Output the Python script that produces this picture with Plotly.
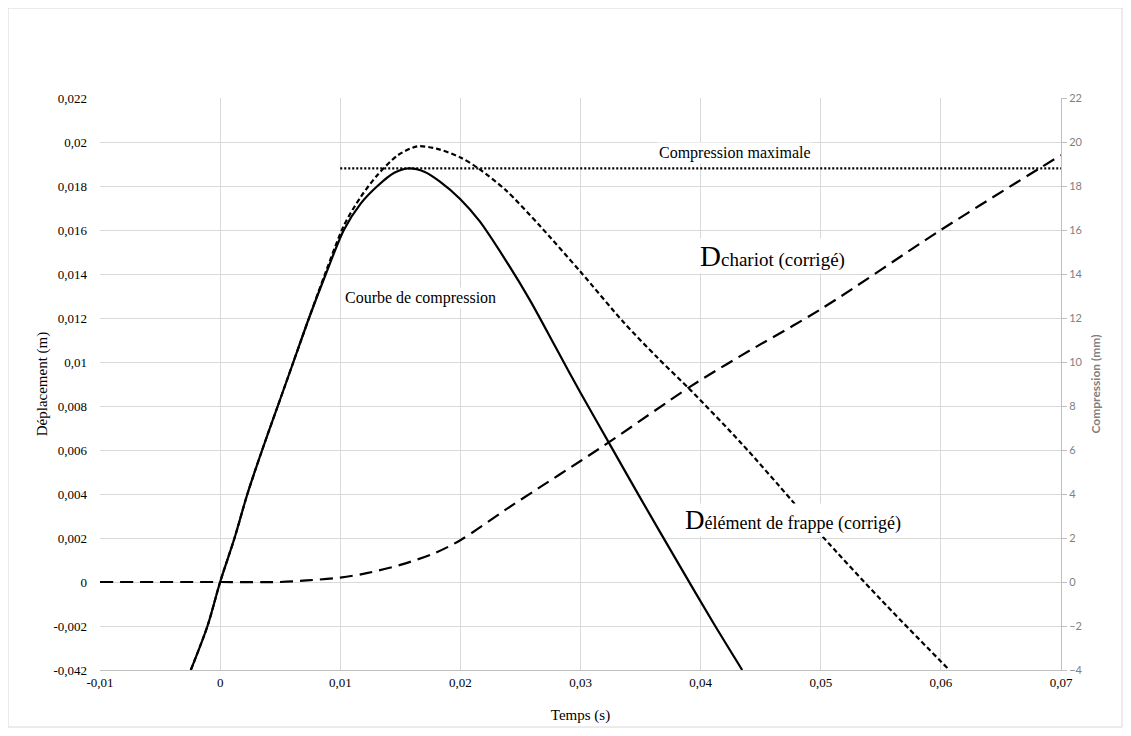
import plotly.graph_objects as go

# ---- data ----
t_comp = [-0.00244, -0.00105, 0.0, 0.0012, 0.00227, 0.0035, 0.0048, 0.0061, 0.0074, 0.0088,
          0.0103, 0.0117, 0.0131, 0.0145, 0.0157, 0.0170, 0.0183, 0.0200, 0.0216, 0.0238,
          0.0258, 0.0280, 0.0300, 0.0325, 0.0350, 0.0383, 0.0411, 0.04346]
compression_mm = [-4.0, -2.0, 0.0, 2.0, 4.0, 6.0, 8.0, 10.0, 12.0, 14.0,
                  16.0, 17.2, 18.0, 18.6, 18.8, 18.65, 18.2, 17.4, 16.4, 14.6,
                  12.8, 10.6, 8.6, 6.2, 3.8, 0.7, -1.9, -4.0]

t_frappe = [-0.00244, -0.00105, 0.0, 0.0012, 0.00227, 0.0035, 0.0048, 0.0061, 0.0074, 0.0088,
            0.0103, 0.0117, 0.0131, 0.0148, 0.0164, 0.0180, 0.0200, 0.0215, 0.0238, 0.0266,
            0.0300, 0.0336, 0.0364, 0.0392, 0.0434, 0.0476, 0.0501, 0.0550, 0.0607]
d_frappe = [-0.004, -0.002, 0.0, 0.002, 0.004, 0.006, 0.008, 0.010, 0.012, 0.0141,
            0.0162, 0.0175, 0.0185, 0.0194, 0.0198, 0.0197, 0.0193, 0.0188, 0.0178, 0.0162,
            0.0141, 0.0118, 0.0102, 0.0087, 0.0063, 0.0037, 0.0021, -0.0008, -0.004]

t_chariot = [-0.01, 0.0, 0.005, 0.0072, 0.010, 0.0122, 0.015, 0.0178, 0.020, 0.0238,
             0.0266, 0.030, 0.0325, 0.0392, 0.0434, 0.050, 0.060, 0.0682, 0.070]
d_chariot = [0.0, 0.0, 0.0, 0.00007, 0.0002, 0.0004, 0.00078, 0.00130, 0.0019, 0.0033,
             0.0043, 0.0055, 0.0064, 0.0089, 0.0103, 0.0124, 0.0160, 0.0188, 0.0194]

t_max = [0.01, 0.07]
compression_max_mm = [18.8, 18.8]

x_tickvals = [-0.01, 0.0, 0.01, 0.02, 0.03, 0.04, 0.05, 0.06, 0.07]
x_ticktext = ["-0,01", "0", "0,01", "0,02", "0,03", "0,04", "0,05", "0,06", "0,07"]
y_tickvals = [-0.004, -0.002, 0.0, 0.002, 0.004, 0.006, 0.008, 0.010, 0.012, 0.014,
              0.016, 0.018, 0.020, 0.022]
y_ticktext = ["-0,042", "-0,002", "0", "0,002", "0,004", "0,006", "0,008", "0,01", "0,012",
              "0,014", "0,016", "0,018", "0,02", "0,022"]
y2_tickvals = [-4, -2, 0, 2, 4, 6, 8, 10, 12, 14, 16, 18, 20, 22]

SERIF = "Liberation Serif, Times New Roman, serif"
SANS = "Lato, Liberation Sans, sans-serif"
GRID = "#d9d9d9"

fig = go.Figure()
fig.add_trace(go.Scatter(x=t_chariot, y=d_chariot, mode="lines", yaxis="y",
                         line=dict(color="#000000", width=2.2, dash="13px,7px",
                                   shape="spline", smoothing=0.9),
                         name="D chariot", showlegend=False))
fig.add_trace(go.Scatter(x=t_frappe, y=d_frappe, mode="lines", yaxis="y",
                         line=dict(color="#000000", width=2.2, dash="5px,3px",
                                   shape="spline", smoothing=0.8),
                         name="D élément de frappe", showlegend=False))
fig.add_trace(go.Scatter(x=t_comp, y=compression_mm, mode="lines", yaxis="y2",
                         line=dict(color="#000000", width=2.2, shape="spline", smoothing=0.8),
                         name="Compression", showlegend=False))
fig.add_trace(go.Scatter(x=t_max, y=compression_max_mm, mode="lines", yaxis="y2",
                         line=dict(color="#000000", width=2.2, dash="2px,2px"),
                         name="Compression maximale", showlegend=False))

fig.add_annotation(x=0.0429, y=0.0195, xref="x", yref="y", text="Compression maximale",
                   showarrow=False, font=dict(family=SERIF, size=16, color="#000000"),
                   bgcolor="#ffffff", borderpad=1)
fig.add_annotation(x=0.0167, y=0.0129, xref="x", yref="y", text="Courbe de compression",
                   showarrow=False, font=dict(family=SERIF, size=16, color="#000000"),
                   bgcolor="#ffffff", borderpad=1)
fig.add_annotation(x=0.0460, y=0.0148, xref="x", yref="y",
                   text="<span style='font-size:29px'>D</span>chariot (corrigé)",
                   showarrow=False, font=dict(family=SERIF, size=19, color="#000000"),
                   bgcolor="#ffffff", borderpad=1)
fig.add_annotation(x=0.0477, y=0.0028, xref="x", yref="y",
                   text="<span style='font-size:27px'>D</span>élément de frappe (corrigé)",
                   showarrow=False, font=dict(family=SERIF, size=18, color="#000000"),
                   bgcolor="#ffffff", borderpad=1)

fig.add_shape(type="rect", xref="paper", yref="paper", x0=-0.0957, x1=1.0635, y0=-0.0997, y1=1.1573,
              line=dict(color="#d9d9d9", width=1), layer="below")

fig.update_layout(
    width=1131, height=736,
    margin=dict(l=92, r=78, t=90, b=74),
    paper_bgcolor="#ffffff", plot_bgcolor="#ffffff",
    showlegend=False,
    xaxis=dict(range=[-0.01, 0.07], tickvals=x_tickvals, ticktext=x_ticktext,
               showgrid=True, gridcolor=GRID, gridwidth=1, zeroline=False,
               showline=True, linecolor="#bfbfbf", linewidth=1, mirror=False,
               ticks="", tickfont=dict(family=SERIF, size=13, color="#000000"),
               title=dict(text="Temps (s)", font=dict(family=SERIF, size=15, color="#000000"),
                          standoff=20)),
    yaxis=dict(range=[-0.004, 0.022], tickvals=y_tickvals, ticktext=y_ticktext,
               showgrid=True, gridcolor=GRID, gridwidth=1, zeroline=False,
               showline=False, ticks="", ticklabelstandoff=12,
               tickfont=dict(family=SERIF, size=13, color="#000000"),
               title=dict(text="Déplacement (m)", font=dict(family=SERIF, size=15, color="#000000"),
                          standoff=2)),
    yaxis2=dict(range=[-4, 22], tickvals=y2_tickvals, overlaying="y", side="right",
                showgrid=False, zeroline=False, showline=True, linecolor="#bfbfbf", linewidth=1,
                ticks="outside", ticklen=5, tickcolor="#bfbfbf",
                tickfont=dict(family=SANS, size=11, color="#7f7f7f"),
                title=dict(text="<b>Compression (mm)</b>",
                           font=dict(family=SANS, size=12, color="#7f7f7f"), standoff=10)),
)

fig.write_html("out.html")
